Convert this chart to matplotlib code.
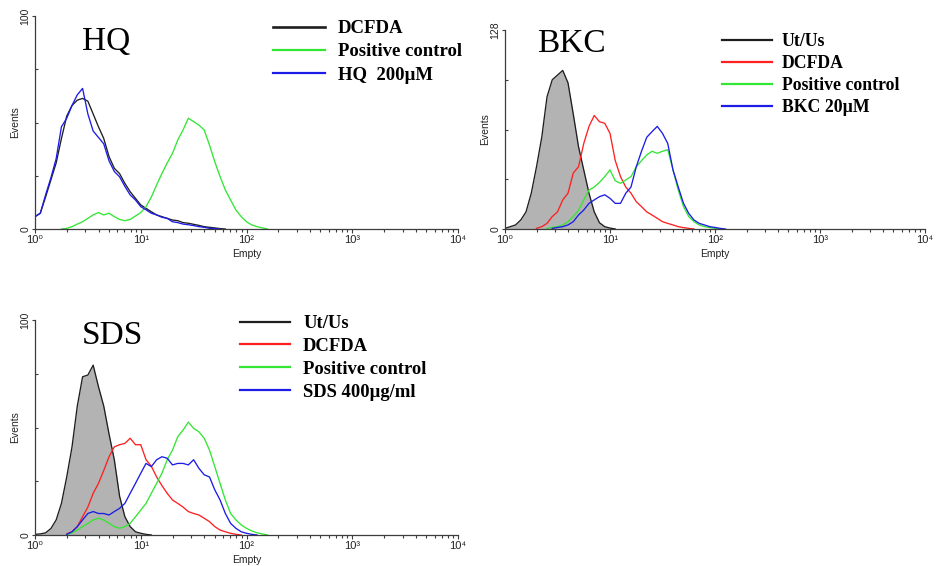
import matplotlib
matplotlib.use('Agg')
import matplotlib.pyplot as plt
import numpy as np
from matplotlib.lines import Line2D
from matplotlib.ticker import FixedLocator, NullFormatter, LogLocator
from matplotlib.font_manager import FontProperties

nan = np.nan

# ---------------- data ----------------
log_fl = [0.00, 0.05, 0.10, 0.15, 0.20, 0.25, 0.30, 0.35, 0.40, 0.45,
          0.50, 0.55, 0.60, 0.65, 0.70, 0.75, 0.80, 0.85, 0.90, 0.95,
          1.00, 1.05, 1.10, 1.15, 1.20, 1.25, 1.30, 1.35, 1.40, 1.45,
          1.50, 1.55, 1.60, 1.65, 1.70, 1.75, 1.80, 1.85, 1.90, 1.95,
          2.00, 2.05, 2.10, 2.15, 2.20]

xtick_labels = ['10\u2070', '10\u00b9', '10\u00b2', '10\u00b3', '10\u2074']

# HQ panel
hq_dcfda = [5.8, 7.4, 15, 23, 31, 42.5, 53, 58, 60.5, 61.3,
            60, 54, 48, 42.5, 34, 28.5, 26, 21.4, 17.5, 14.4,
            11.3, 9.7, 8.1, 6.6, 5.8, 5.0, 4.2, 3.9, 3.0, 2.7,
            2.2, 1.7, 1.1, 0.8, 0.5, 0.2, 0, nan, nan, nan,
            nan, nan, nan, nan, nan]
hq_pos = [nan, nan, nan, nan, nan, 0, 0.3, 1.1, 2.3, 3.4,
          5.0, 6.6, 7.7, 6.6, 7.4, 5.8, 4.5, 3.9, 4.5, 6.1,
          7.7, 10.5, 15, 20.7, 26, 31, 35.5, 41.8, 46.5, 52,
          50.4, 48.8, 46.5, 39.4, 31.6, 24.6, 18.3, 13.6, 8.9, 5.8,
          3.4, 1.9, 1.1, 0.5, 0]
hq_200 = [5.8, 7.4, 16, 24, 33, 48, 52, 58, 63, 66,
          54, 46, 43, 40, 32, 27, 24.5, 20, 16, 13.6,
          10.5, 9.0, 7.4, 6.6, 5.5, 5.0, 3.4, 3.0, 2.3, 2.0,
          1.6, 1.1, 0.8, 0.3, 0.2, 0, nan, nan, nan, nan,
          nan, nan, nan, nan, nan]

# BKC panel
bkc_utus = [0.4, 1.5, 2.6, 5.8, 11, 23, 40, 59, 85, 96,
            99, 102, 94, 74, 53, 38, 23, 11, 4, 1.5,
            0.6, 0, nan, nan, nan, nan, nan, nan, nan, nan,
            nan, nan, nan, nan, nan, nan, nan, nan, nan, nan,
            nan, nan, nan, nan, nan]
bkc_dcfda = [nan, nan, nan, nan, nan, nan, 0.4, 1.5, 3.6, 8,
             11, 18.7, 23, 36, 40, 55, 66, 73, 69, 68,
             61.5, 44, 33.7, 27, 23, 17.6, 14.4, 11, 9, 6.9,
             4.7, 3.6, 2.6, 1.5, 0.9, 0.4, 0, nan, nan, nan,
             nan, nan, nan, nan, nan]
bkc_pos = [nan, nan, nan, nan, nan, nan, nan, nan, 0.4, 1.0,
           1.5, 2.6, 4.7, 8, 12, 18.7, 25, 27, 30, 33.7,
           38, 31, 29.4, 31.5, 33.7, 40, 44, 47.6, 50, 48.7,
           50, 51, 38, 25, 14.4, 8, 4.7, 2.6, 1.5, 0.9,
           0.4, 0, nan, nan, nan]
bkc_20 = [nan, nan, nan, nan, nan, nan, nan, nan, nan, 0.4,
          1.0, 1.5, 2.6, 4.7, 9, 12.2, 16.5, 18.7, 20.8, 22,
          19.7, 16.5, 16.5, 23, 27, 40, 50, 59, 62.6, 66,
          61.5, 55, 38, 27, 16.5, 10, 5.8, 3.6, 2.6, 1.5,
          1.0, 0.4, 0, nan, nan]

# SDS panel
sds_utus = [0.3, 0.5, 1.0, 3.0, 7, 14.7, 27, 41, 60, 73.6,
            74.4, 79, 69, 60, 47, 35, 18, 8.5, 3.9, 1.5,
            0.8, 0.3, 0, nan, nan, nan, nan, nan, nan, nan,
            nan, nan, nan, nan, nan, nan, nan, nan, nan, nan,
            nan, nan, nan, nan, nan]
sds_dcfda = [nan, nan, nan, nan, nan, nan, 0.5, 1.5, 3.9, 8.5,
             13, 19.4, 24, 30, 36.4, 41, 42, 42.6, 45, 42,
             42, 35, 32, 27, 23, 19.4, 16.3, 14.7, 13, 10.9,
             10, 9.3, 7.8, 6.2, 3.9, 2.3, 1.5, 0.8, 0.3, 0,
             nan, nan, nan, nan, nan]
sds_pos = [nan, nan, nan, nan, nan, nan, 0.3, 1.0, 2.3, 3.9,
           5.4, 7.0, 7.8, 7.0, 5.4, 3.9, 3.1, 3.9, 5.4, 8.5,
           11.6, 14.7, 19.4, 24, 28.7, 35, 39.5, 45.7, 48.8, 52.5,
           49.6, 48, 45, 39.5, 31.8, 24, 16.3, 10, 7.0, 4.7,
           3.1, 1.9, 1.0, 0.5, 0]
sds_400 = [nan, nan, nan, nan, nan, nan, 0.3, 1.5, 3.9, 7.0,
           10, 10.9, 10, 10, 9.3, 10.9, 12.4, 14.7, 19.4, 24,
           28.7, 33.3, 31.8, 35, 36.4, 35.7, 32.6, 33.3, 33.3, 32.6,
           35, 31, 28, 27, 21, 16.3, 10, 5.4, 3.1, 1.5,
           0.8, 0.3, 0, nan, nan]

panel_titles = ['HQ', 'BKC', 'SDS']
labels_hq = ['DCFDA', 'Positive control', 'HQ  200\u00b5M']
labels_bkc = ['Ut/Us', 'DCFDA', 'Positive control', 'BKC 20\u00b5M']
labels_sds = ['Ut/Us', 'DCFDA', 'Positive control', 'SDS 400\u00b5g/ml']
ymax_hq, ymax_bkc, ymax_sds = 100, 128, 100

# ---------------- style ----------------
C_BLACK = '#1e1e1e'
C_RED = '#ff2020'
C_GREEN = '#33e633'
C_BLUE = '#1c1ce6'
C_FILL = '#b3b3b3'
AX_COL = '#3c3c3c'
SANS = ['Liberation Sans', 'DejaVu Sans']
SERIF = ['Liberation Serif', 'DejaVu Serif']

W, H = 942, 566
fig = plt.figure(figsize=(W / 100, H / 100), dpi=100)


def px_axes(l, t, r, b):
    return fig.add_axes([l / W, 1 - b / H, (r - l) / W, (b - t) / H])


fl = 10 ** np.array(log_fl)


def style(ax, ymax):
    ax.set_xscale('log')
    ax.set_xlim(1, 1e4)
    ax.set_ylim(0, ymax)
    for s in ['top', 'right']:
        ax.spines[s].set_visible(False)
    for s in ['left', 'bottom']:
        ax.spines[s].set_color(AX_COL)
        ax.spines[s].set_linewidth(0.9)
    ax.set_xticks([1, 10, 100, 1000, 10000])
    ax.set_xticklabels(xtick_labels, fontsize=8, family=SANS, color='#222222')
    ax.xaxis.set_minor_locator(LogLocator(base=10, subs=range(2, 10)))
    ax.xaxis.set_minor_formatter(NullFormatter())
    ax.tick_params(axis='x', which='major', length=3, width=0.8, pad=1.5, color=AX_COL)
    ax.tick_params(axis='x', which='minor', length=2, width=0.8, color=AX_COL)
    ax.set_yticks([0, ymax])
    ax.set_yticklabels(['0', str(ymax)], rotation=90, va='center',
                       fontsize=7.5, family=SANS, color='#222222')
    ax.yaxis.set_minor_locator(FixedLocator([ymax / 4, ymax / 2, 3 * ymax / 4]))
    ax.tick_params(axis='y', which='major', length=2, width=0.8, pad=1.5, color=AX_COL)
    ax.tick_params(axis='y', which='minor', length=2, width=0.8, direction='in', color=AX_COL)
    ax.set_ylabel('Events', fontsize=7.5, family=SANS, labelpad=0, color='#222222')
    ax.set_xlabel('Empty', fontsize=7.5, family=SANS, labelpad=3, color='#222222')


def legend(ax, handles, labels, x_px, y_px, size, hlen, hpad, spacing):
    ax.legend(handles, labels, loc='upper left',
              bbox_to_anchor=(x_px / W, 1 - y_px / H), bbox_transform=fig.transFigure,
              frameon=False, borderpad=0, borderaxespad=0,
              handlelength=hlen, handletextpad=hpad, labelspacing=spacing,
              prop=FontProperties(family=SERIF, weight='bold', size=size))


LW = 0.95

# Panel HQ
ax1 = px_axes(35, 16, 458, 229)
style(ax1, ymax_hq)
ax1.plot(fl, hq_dcfda, color=C_BLACK, lw=LW)
ax1.plot(fl, hq_pos, color=C_GREEN, lw=LW)
ax1.plot(fl, hq_200, color=C_BLUE, lw=LW)
h1 = [Line2D([], [], color=C_BLACK, lw=1.9), Line2D([], [], color=C_GREEN, lw=1.6),
      Line2D([], [], color=C_BLUE, lw=1.6)]
legend(ax1, h1, labels_hq, 273, 20, 13.5, 2.77, 0.69, 0.33)
fig.text(82 / W, 1 - 50 / H, panel_titles[0], fontsize=24, family=SERIF, va='baseline')

# Panel BKC
ax2 = px_axes(505, 30, 925, 229)
style(ax2, ymax_bkc)
ax2.fill_between(fl, bkc_utus, 0, color=C_FILL, lw=0)
ax2.plot(fl, bkc_utus, color=C_BLACK, lw=LW)
ax2.plot(fl, bkc_dcfda, color=C_RED, lw=LW)
ax2.plot(fl, bkc_pos, color=C_GREEN, lw=LW)
ax2.plot(fl, bkc_20, color=C_BLUE, lw=LW)
h2 = [Line2D([], [], color=C_BLACK, lw=1.6), Line2D([], [], color=C_RED, lw=1.6),
      Line2D([], [], color=C_GREEN, lw=1.6), Line2D([], [], color=C_BLUE, lw=1.6)]
legend(ax2, h2, labels_bkc, 722, 33, 12.8, 2.81, 0.56, 0.29)
fig.text(537 / W, 1 - 52 / H, panel_titles[1], fontsize=24, family=SERIF, va='baseline')

# Panel SDS
ax3 = px_axes(35, 320, 458, 535)
style(ax3, ymax_sds)
ax3.fill_between(fl, sds_utus, 0, color=C_FILL, lw=0)
ax3.plot(fl, sds_utus, color=C_BLACK, lw=LW)
ax3.plot(fl, sds_dcfda, color=C_RED, lw=LW)
ax3.plot(fl, sds_pos, color=C_GREEN, lw=LW)
ax3.plot(fl, sds_400, color=C_BLUE, lw=LW)
h3 = [Line2D([], [], color=C_BLACK, lw=1.6), Line2D([], [], color=C_RED, lw=1.6),
      Line2D([], [], color=C_GREEN, lw=1.6), Line2D([], [], color=C_BLUE, lw=1.6)]
legend(ax3, h3, labels_sds, 240, 315, 13.4, 2.69, 0.7, 0.32)
fig.text(82 / W, 1 - 344 / H, panel_titles[2], fontsize=24, family=SERIF, va='baseline')

fig.savefig('out.png', dpi=100)
